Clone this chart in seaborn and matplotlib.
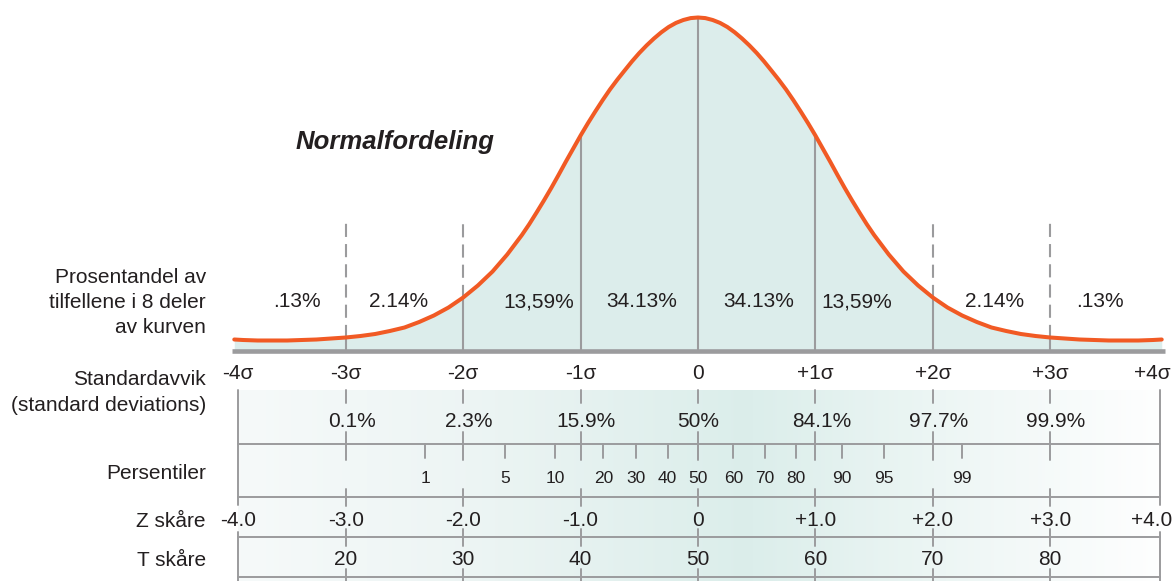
import numpy as np
import matplotlib
matplotlib.use('Agg')
import matplotlib.pyplot as plt
import seaborn as sns

# curve: position (in sigma) and height above the baseline
curve_z = [-3.95, -3.875, -3.75, -3.625, -3.5, -3.375, -3.25, -3.125, -3.0,
           -2.875, -2.75, -2.625, -2.5, -2.375, -2.25, -2.125, -2.0,
           -1.875, -1.75, -1.625, -1.5, -1.4375, -1.375, -1.3125, -1.25,
           -1.1875, -1.125, -1.0625, -1.0, -0.9375, -0.875, -0.8125, -0.75,
           -0.6875, -0.625, -0.5625, -0.5, -0.4375, -0.375, -0.3125, -0.25,
           -0.1875, -0.125, -0.0625, 0.0,
           0.0625, 0.125, 0.1875, 0.25, 0.3125, 0.375, 0.4375, 0.5,
           0.5625, 0.625, 0.6875, 0.75, 0.8125, 0.875, 0.9375, 1.0,
           1.0625, 1.125, 1.1875, 1.25, 1.3125, 1.375, 1.4375, 1.5,
           1.625, 1.75, 1.875, 2.0, 2.125, 2.25, 2.375, 2.5,
           2.625, 2.75, 2.875, 3.0, 3.125, 3.25, 3.375, 3.5,
           3.625, 3.75, 3.875, 3.95]
curve_h = [11, 10.5, 10, 10, 10, 10.5, 11, 12, 13,
           14.5, 16.5, 19.5, 23, 28.5, 35, 43, 53,
           65, 79, 96, 115.5, 126.3, 138, 150, 162.5,
           175.6, 189, 202, 215, 227.3, 239, 250.3, 261,
           270.8, 280, 289.1, 297.5, 305.1, 312, 318.2, 323.5,
           327.6, 330.5, 332.4, 333,
           332.4, 330.5, 327.6, 323.5, 318.2, 312, 305.1, 297.5,
           289.1, 280, 270.8, 261, 250.3, 239, 227.3, 215,
           202, 189, 175.6, 162.5, 150, 138, 126.3, 115.5,
           96, 79, 65, 53, 43, 35, 28.5, 23,
           19.5, 16.5, 14.5, 13, 12, 11, 10.5, 10,
           10, 10, 10.5, 11]

seg_labels = ['.13%', '2.14%', '13,59%', '34.13%', '34.13%', '13,59%', '2.14%', '.13%']
sigmas = [-4, -3, -2, -1, 0, 1, 2, 3, 4]
sigma_labels = ['-4σ', '-3σ', '-2σ', '-1σ', '0', '+1σ', '+2σ', '+3σ', '+4σ']
cum_sigmas = [-3, -2, -1, 0, 1, 2, 3]
cum_labels = ['0.1%', '2.3%', '15.9%', '50%', '84.1%', '97.7%', '99.9%']
pct_labels = ['1', '5', '10', '20', '30', '40', '50', '60', '70', '80', '90', '95', '99']
pct_z = [-2.325, -1.644, -1.218, -0.807, -0.531, -0.258, 0.0,
         0.301, 0.571, 0.835, 1.224, 1.584, 2.25]
z_labels = ['-4.0', '-3.0', '-2.0', '-1.0', '0', '+1.0', '+2.0', '+3.0', '+4.0']
t_sigmas = [-3, -2, -1, 0, 1, 2, 3]
t_labels = ['20', '30', '40', '50', '60', '70', '80']
row_titles = ['Prosentandel av', 'tilfellene i 8 deler', 'av kurven',
              'Standardavvik', '(standard deviations)', 'Persentiler',
              'Z skåre', 'T skåre']

sns.set_theme(style='white')
plt.rcParams['font.family'] = ['Liberation Sans', 'DejaVu Sans']

GRAY = '#9b9b9d'
TXT = '#231f20'
ORANGE = '#f15a24'
FILL = '#dcedeb'
FS = 15

# layout helpers: pixel positions -> axes data
BASE = 350.5
def Y(p):
    return BASE - p

def X(p):
    return (p - 698) / 117.4

LEFT, RIGHT = X(238), X(1160)

fig = plt.figure(figsize=(11.76, 5.81), dpi=100)
ax = fig.add_axes([0, 0, 1, 1])
ax.set_xlim(X(0), X(1176))
ax.set_ylim(Y(581), Y(0))
ax.axis('off')

# curve + fill
ax.fill_between(curve_z, 0, curve_h, color=FILL, lw=0, zorder=1)
for s in [-2, -1, 0, 1, 2]:
    top = np.interp(s, curve_z, curve_h)
    ax.plot([s, s], [0, top], color=GRAY, lw=1.5, zorder=2)
for s in [-3, -2, 2, 3]:
    top = np.interp(s, curve_z, curve_h)
    ax.plot([s, s], [top, Y(220)], color=GRAY, lw=1.5, zorder=2,
            linestyle=(0, (6.3, 3.4)))
    if abs(s) == 3:
        ax.plot([s, s], [0, top], color=GRAY, lw=1.5, zorder=2)
sns.lineplot(x=curve_z, y=curve_h, ax=ax, color=ORANGE, lw=2.9, zorder=4,
             sort=False, solid_capstyle='round', solid_joinstyle='round')
ax.plot([X(232), X(1165)], [0, 0], color=GRAY, lw=3.3, zorder=3,
        solid_capstyle='butt')

ax.text(X(395), Y(149), 'Normalfordeling', fontsize=18.5, style='italic',
        weight='bold', ha='center', va='baseline', color=TXT)

seg_x = [-3.42, -2.55, -1.36, -0.48, 0.52, 1.35, 2.53, 3.42]
for x, lab in zip(seg_x, seg_labels):
    ax.text(x, Y(307), lab, fontsize=FS, ha='center', va='baseline', color=TXT)

# left row titles
title_base = [283, 308, 333, 385, 411, 479, 527, 566]
for b, lab in zip(title_base, row_titles):
    ax.text(X(206), Y(b), lab, fontsize=FS, ha='right', va='baseline', color=TXT)

# gradient band behind the lower scales
gx = [LEFT, -2.0, 0.4, 2.5, RIGHT]
gc = np.array([[0.965, 0.98, 0.98], [0.93, 0.96, 0.957], [0.86, 0.932, 0.92],
               [0.945, 0.972, 0.968], [0.997, 0.998, 0.998]])
xs = np.linspace(LEFT, RIGHT, 400)
grad = np.stack([np.interp(xs, gx, gc[:, i]) for i in range(3)], axis=-1)[None, :, :]
ax.imshow(grad, extent=[LEFT, RIGHT, Y(581), Y(390)], aspect='auto', zorder=0,
          interpolation='bilinear')

# frame of the lower scales
for p in [444, 497, 537, 577]:
    ax.plot([LEFT, RIGHT], [Y(p), Y(p)], color=GRAY, lw=1.4, zorder=2)
for x in [LEFT, RIGHT]:
    ax.plot([x, x], [Y(390), Y(505)], color=GRAY, lw=1.4, zorder=2)
    ax.plot([x, x], [Y(532), Y(581)], color=GRAY, lw=1.4, zorder=2)

# sigma guide marks
for s in cum_sigmas:
    for a, b in [(390, 403), (432, 460), (489, 506), (529, 546), (569, 581)]:
        ax.plot([s, s], [Y(a), Y(b)], color=GRAY, lw=1.4, zorder=2)

# outer labels (+-4) sit at the panel edges
edge_x = {-4: X(238), 4: X(1152)}
for s, lab in zip(sigmas, sigma_labels):
    x = edge_x.get(s, s)
    ax.text(x, Y(379), lab, fontsize=FS, ha='center', va='baseline', color=TXT)
for s, lab in zip(cum_sigmas, cum_labels):
    x = s + 0.05 if s != 0 else s
    ax.text(x, Y(427), lab, fontsize=FS, ha='center', va='baseline', color=TXT)
for z, lab in zip(pct_z, pct_labels):
    ax.plot([z, z], [Y(444), Y(458)], color=GRAY, lw=1.4, zorder=2)
    ax.text(z, Y(483), lab, fontsize=12.5, ha='center', va='baseline', color=TXT)
for s, lab in zip(sigmas, z_labels):
    x = edge_x.get(s, s)
    ax.text(x, Y(526), lab, fontsize=FS, ha='center', va='baseline', color=TXT)
for s, lab in zip(t_sigmas, t_labels):
    ax.text(s, Y(565), lab, fontsize=FS, ha='center', va='baseline', color=TXT)

fig.savefig('out.png', dpi=100)
